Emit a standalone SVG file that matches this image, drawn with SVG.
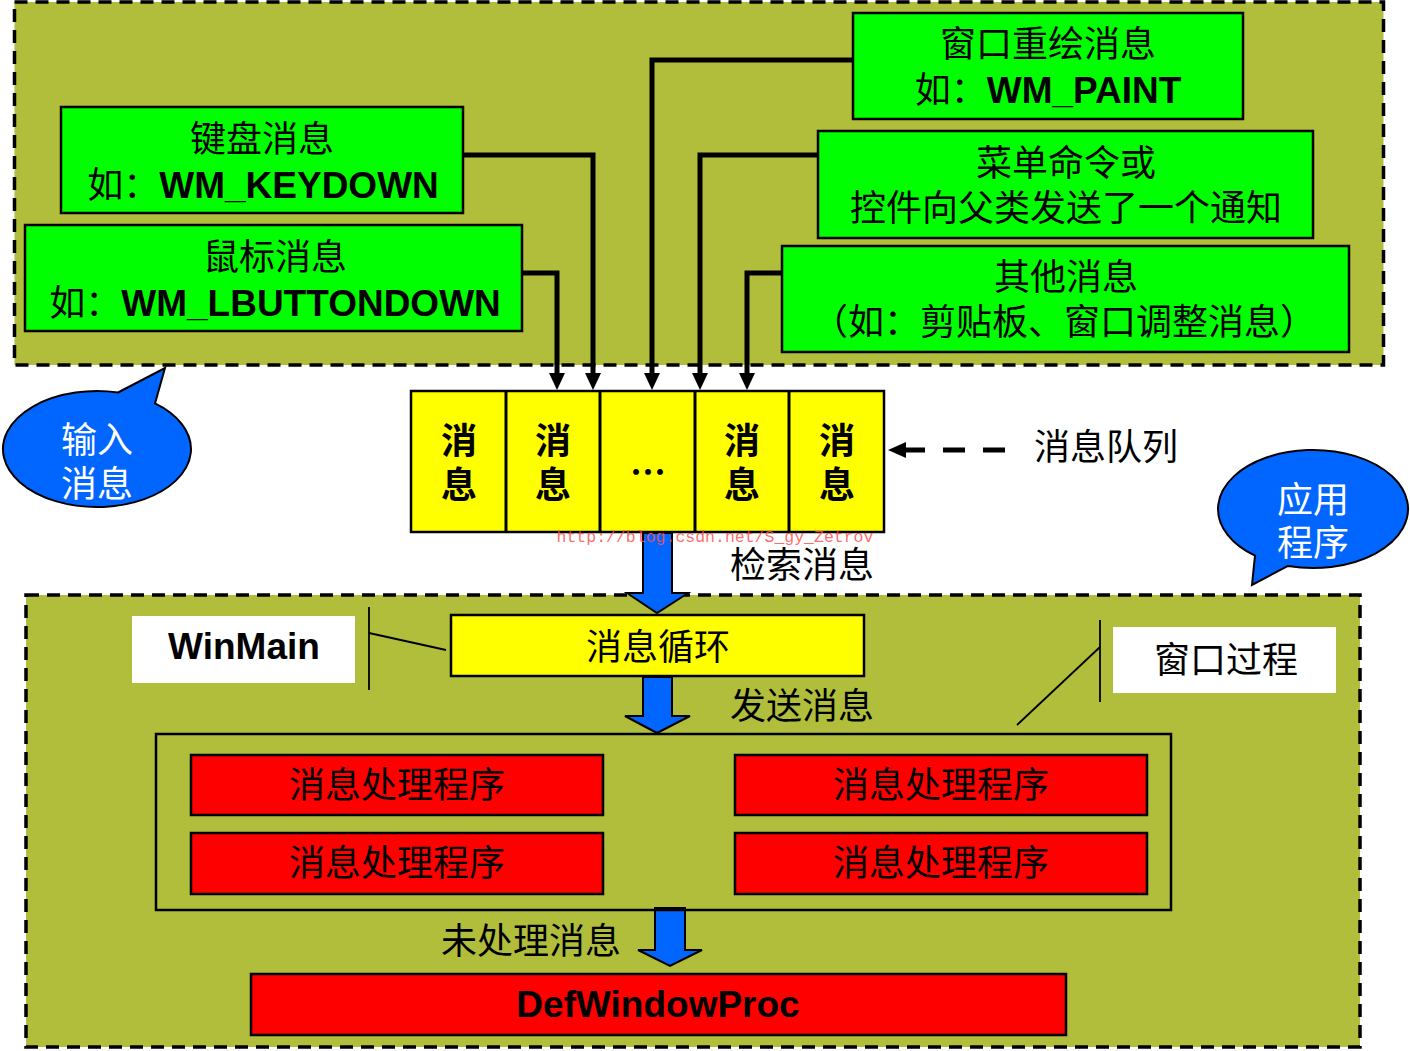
<svg xmlns="http://www.w3.org/2000/svg" width="1410" height="1051" viewBox="0 0 1410 1051">
<defs>
<style>
.region{fill:#B0BE3C;stroke:#000;stroke-width:3.5;stroke-dasharray:13 8}
.g{fill:#00FF00;stroke:#000;stroke-width:2.5}
.y{fill:#FFFF00;stroke:#000;stroke-width:2.5}
.r{fill:#FF0000;stroke:#000;stroke-width:2.5}
.w{fill:#FFFFFF}
.cn{font-family:"Noto Sans CJK SC","Liberation Sans",sans-serif;font-size:36px;fill:#000;text-anchor:middle}
.lb{font-family:"Liberation Sans","Noto Sans CJK SC",sans-serif;font-weight:bold;font-size:37px}
.q{font-weight:bold}
.wt{fill:#FFFFFF}
.conn{fill:none;stroke:#000;stroke-width:5}
.thin{fill:none;stroke:#000;stroke-width:1.8}
.blue{fill:#0066FF;stroke:#000;stroke-width:2}
.bub{fill:#0066FF;stroke:#000;stroke-width:2}
</style>
<marker id="ah" markerUnits="userSpaceOnUse" markerWidth="18" markerHeight="18" viewBox="0 0 18 18" refX="0" refY="8" orient="auto">
<path d="M0,0 L17,8 L0,16 Z" fill="#000"/>
</marker>
</defs>
<rect width="1410" height="1051" fill="#FFFFFF"/>

<g id="input-region"><rect class="region" x="14.5" y="2" width="1369" height="363"/></g>
<g id="app-region"><rect class="region" x="26" y="595" width="1334" height="452"/></g>

<g id="connectors">
<path class="conn" d="M463,155 H593 V373" marker-end="url(#ah)"/>
<path class="conn" d="M522,273 H557 V373" marker-end="url(#ah)"/>
<path class="conn" d="M853,60 H652 V373" marker-end="url(#ah)"/>
<path class="conn" d="M818,155 H700 V373" marker-end="url(#ah)"/>
<path class="conn" d="M782,273 H747 V373" marker-end="url(#ah)"/>
<line x1="1005" y1="450" x2="906" y2="450" stroke="#000" stroke-width="5" stroke-dasharray="22 18"/>
<path d="M888,450 L906,442 L906,458 Z" fill="#000"/>
<path class="blue" d="M643,533 H672 V593 H688 L657,613 L627,593 H643 Z"/>
<path class="blue" d="M643,677 H672 V716 H690 L657,733 L625,716 H643 Z"/>
<path class="blue" d="M655,908 H685 V950 H702 L670,966 L638,950 H655 Z"/>
<path class="thin" d="M369,607 V690 M369,633 L446,650"/>
<path class="thin" d="M1100,620 V702 M1100,647 L1017,725"/>
</g>

<g id="keyboard">
<rect class="g" x="61" y="107" width="402" height="106"/>
<text class="cn" x="262" y="152">键盘消息</text>
<text class="cn" x="263" y="198">如：<tspan class="lb">WM_KEYDOWN</tspan></text>
</g>
<g id="mouse">
<rect class="g" x="25" y="225" width="497" height="106"/>
<text class="cn" x="275" y="270">鼠标消息</text>
<text class="cn" x="275" y="316">如：<tspan class="lb">WM_LBUTTONDOWN</tspan></text>
</g>
<g id="paint">
<rect class="g" x="853" y="13" width="390" height="106"/>
<text class="cn" x="1048" y="57">窗口重绘消息</text>
<text class="cn" x="1048" y="103">如：<tspan class="lb">WM_PAINT</tspan></text>
</g>
<g id="menu">
<rect class="g" x="818" y="131" width="495" height="107"/>
<text class="cn" x="1066" y="176">菜单命令或</text>
<text class="cn" x="1066" y="221">控件向父类发送了一个通知</text>
</g>
<g id="other">
<rect class="g" x="782" y="246" width="567" height="106"/>
<text class="cn" x="1066" y="290">其他消息</text>
<text class="cn" x="1064" y="335">（如：剪贴板、窗口调整消息）</text>
</g>

<g id="queue">
<rect class="y" x="411" y="391" width="473" height="141" stroke-width="3"/>
<path d="M506,391 V532 M600,391 V532 M695,391 V532 M789,391 V532" stroke="#000" stroke-width="3"/>
<text class="cn q" x="459" y="454">消</text><text class="cn q" x="459" y="498">息</text>
<text class="cn q" x="553" y="454">消</text><text class="cn q" x="553" y="498">息</text>
<text class="cn q" x="648" y="486">…</text>
<text class="cn q" x="742" y="454">消</text><text class="cn q" x="742" y="498">息</text>
<text class="cn q" x="837" y="454">消</text><text class="cn q" x="837" y="498">息</text>
</g>
<g id="queue-label"><text class="cn" x="1106" y="460">消息队列</text></g>
<text x="715" y="542" font-family="Liberation Mono, monospace" font-size="16.5" fill="#FF5050" fill-opacity="0.85" text-anchor="middle">http://blog.csdn.net/S_gy_Zetrov</text>

<g id="input-bubble">
<path class="bub" d="M118,392.5 L165,368 L155,403.4 A94,58 0 1,1 118,392.5 Z"/>
<text class="cn wt" x="97" y="453">输入</text>
<text class="cn wt" x="97" y="497">消息</text>
</g>
<g id="app-bubble">
<path class="bub" d="M1288,565.9 L1252,585 L1255,555.7 A95,59 0 1,1 1288,565.9 Z"/>
<text class="cn wt" x="1313" y="513">应用</text>
<text class="cn wt" x="1313" y="556">程序</text>
</g>

<g id="retrieve-label"><text class="cn" x="802" y="578">检索消息</text></g>
<g id="winmain">
<rect class="w" x="132" y="616" width="223" height="67"/>
<text class="cn lb" x="244" y="659">WinMain</text>
</g>
<g id="loop">
<rect class="y" x="451" y="615" width="413" height="61"/>
<text class="cn" x="658" y="660">消息循环</text>
</g>
<g id="send-label"><text class="cn" x="802" y="719">发送消息</text></g>
<g id="wndproc">
<rect class="w" x="1113" y="627" width="223" height="66"/>
<text class="cn" x="1226" y="673">窗口过程</text>
</g>
<g id="handlers">
<rect x="156" y="734" width="1015" height="176" fill="none" stroke="#000" stroke-width="2.5"/>
</g>
<g id="h1"><rect class="r" x="191" y="755" width="412" height="60"/><text class="cn" x="397" y="798">消息处理程序</text></g>
<g id="h2"><rect class="r" x="735" y="755" width="412" height="60"/><text class="cn" x="941" y="798">消息处理程序</text></g>
<g id="h3"><rect class="r" x="191" y="833" width="412" height="61"/><text class="cn" x="397" y="876">消息处理程序</text></g>
<g id="h4"><rect class="r" x="735" y="833" width="412" height="61"/><text class="cn" x="941" y="876">消息处理程序</text></g>
<g id="unhandled-label"><text class="cn" x="531" y="954">未处理消息</text></g>
<g id="defwndproc">
<rect class="r" x="251" y="974" width="815" height="61"/>
<text class="cn lb" x="658" y="1017">DefWindowProc</text>
</g>
</svg>
